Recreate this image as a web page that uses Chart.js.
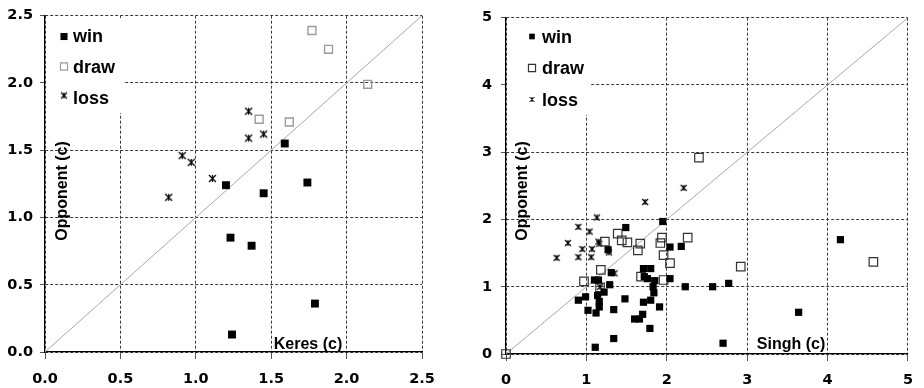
<!DOCTYPE html>
<html>
<head>
<meta charset="utf-8">
<script src="https://cdn.jsdelivr.net/npm/chart.js@4.4.1/dist/chart.umd.min.js"></script>
<style>
  html, body { margin: 0; padding: 0; background: #fff; }
  #wrap { position: relative; width: 924px; height: 388px; overflow: hidden; }
  canvas { position: absolute; top: 0; }
  #keres { left: 0; }
  #singh { left: 460px; }
</style>
</head>
<body>
<div id="wrap">
  <canvas id="keres" width="460" height="388"></canvas>
  <canvas id="singh" width="464" height="388"></canvas>
</div>
<script>
// Keres games: [Keres (c), Opponent (c)] per game, split by result
const keresWin = [[1.59, 1.55], [1.20, 1.24], [1.45, 1.18], [1.74, 1.26], [1.23, 0.85], [1.37, 0.79], [1.79, 0.36], [1.24, 0.13]];
const keresDraw = [[1.77, 2.39], [1.88, 2.25], [2.14, 1.99], [1.42, 1.73], [1.62, 1.71]];
const keresLoss = [[1.35, 1.79], [1.35, 1.59], [1.45, 1.62], [0.91, 1.46], [0.97, 1.41], [1.11, 1.29], [0.82, 1.15]];
const keresTicks = ['0.0', '0.5', '1.0', '1.5', '2.0', '2.5'];

// Singh games: [Singh (c), Opponent (c)] per game, split by result
const singhWin = [[1.95, 1.97], [1.49, 1.88], [2.04, 1.59], [2.18, 1.60], [1.27, 1.55], [4.16, 1.70],
  [1.71, 1.27], [1.80, 1.27], [1.31, 1.21], [1.10, 1.10], [1.15, 1.10], [1.76, 1.12], [1.85, 1.09],
  [1.72, 1.15], [2.04, 1.12], [1.29, 1.03], [1.83, 1.00], [2.23, 1.00], [2.57, 1.00], [2.77, 1.05],
  [0.99, 0.85], [0.90, 0.80], [1.22, 0.92], [1.14, 0.87], [1.48, 0.82], [1.84, 0.91], [1.16, 0.78],
  [1.02, 0.65], [1.16, 0.70], [1.34, 0.66], [1.12, 0.61], [1.71, 0.77], [1.80, 0.80], [1.91, 0.70],
  [1.60, 0.52], [1.66, 0.52], [1.70, 0.59], [1.79, 0.38], [1.34, 0.23], [1.11, 0.10], [2.70, 0.16],
  [3.64, 0.62]];
const singhDraw = [[2.40, 2.92], [2.26, 1.73], [1.94, 1.73], [1.92, 1.65], [1.39, 1.79], [1.44, 1.69],
  [1.51, 1.66], [1.23, 1.67], [1.67, 1.64], [1.64, 1.54], [1.96, 1.47], [2.04, 1.35], [2.92, 1.30],
  [4.57, 1.37], [1.18, 1.25], [1.68, 1.15], [1.96, 1.10], [0.97, 1.08], [1.17, 0.99], [0, 0]];
const singhLoss = [[2.21, 2.47], [1.73, 2.26], [1.13, 2.03], [0.90, 1.89], [1.04, 1.82], [0.77, 1.65],
  [1.15, 1.67], [1.16, 1.64], [0.63, 1.43], [0.90, 1.44], [1.06, 1.44], [0.95, 1.56], [1.07, 1.56],
  [1.28, 1.51], [1.35, 1.20], [1.17, 1.00]];
const singhTicks = ['0', '1', '2', '3', '4', '5'];

const resultLabels = ['win', 'draw', 'loss'];

const toPoints = arr => arr.map(([x, y]) => ({ x, y }));

// asterisk-style marker: an X crossed by a vertical stroke
function asteriskMarker(size, width) {
  const pad = 2;
  const c = document.createElement('canvas');
  c.width = c.height = size + pad * 2;
  const g = c.getContext('2d');
  const m = c.width / 2, h = size / 2;
  g.strokeStyle = '#000';
  g.lineWidth = width;
  g.beginPath();
  g.moveTo(m - h, m - h); g.lineTo(m + h, m + h);
  g.moveTo(m + h, m - h); g.lineTo(m - h, m + h);
  g.moveTo(m, m - h); g.lineTo(m, m + h);
  g.stroke();
  return c;
}

const TICK_FONT = { family: '"DejaVu Sans", sans-serif', size: 14.5, weight: 'bold' };
const TEXT_FONT = '"Liberation Sans", Arial, sans-serif';

// white legend panel, markers and labels, plus the in-plot axis titles
function decorPlugin(cfg) {
  return {
    id: 'decor',
    beforeDatasetsDraw(chart) {
      const ctx = chart.ctx;
      const lg = cfg.legend;
      ctx.save();
      ctx.fillStyle = '#fff';
      ctx.fillRect(lg.box[0], lg.box[1], lg.box[2], lg.box[3]);
      lg.markers.forEach((mk, i) => {
        ctx.fillStyle = mk.fill;
        ctx.strokeStyle = mk.stroke;
        ctx.lineWidth = mk.borderWidth;
        Chart.helpers.drawPoint(ctx, {
          pointStyle: mk.style, radius: mk.radius, rotation: 0, borderWidth: mk.borderWidth
        }, lg.markerX, lg.markerY[i]);
        ctx.fillStyle = '#000';
        ctx.font = 'bold 18px ' + TEXT_FONT;
        ctx.textAlign = 'left';
        ctx.textBaseline = 'alphabetic';
        ctx.fillText(resultLabels[i], lg.textX, lg.baseY[i]);
      });
      ctx.restore();
    },
    afterDraw(chart) {
      const ctx = chart.ctx;
      ctx.save();
      ctx.fillStyle = '#000';
      ctx.font = 'bold 16px ' + TEXT_FONT;
      ctx.textBaseline = 'alphabetic';
      ctx.textAlign = 'center';
      ctx.fillText(cfg.xTitle.text, cfg.xTitle.x, cfg.xTitle.y);
      ctx.translate(cfg.yTitle.x, cfg.yTitle.y);
      ctx.rotate(-Math.PI / 2);
      ctx.fillText(cfg.yTitle.text, 0, 0);
      ctx.restore();
    }
  };
}

function scaleOpts(max, step, labels, tickLen, pad, fitSize, isX) {
  return {
    type: 'linear',
    min: 0, max: max,
    ticks: {
      stepSize: step,
      color: '#000',
      font: TICK_FONT,
      padding: pad,
      autoSkip: false,
      maxRotation: 0,
      callback: (v, i) => labels[i]
    },
    grid: { color: '#3a3a3a', lineWidth: 1, tickLength: tickLen, tickColor: '#555' },
    border: { display: true, color: '#000', width: 1.2, dash: [3, 2] },
    afterFit: s => { if (isX) s.height = fitSize; else s.width = fitSize; }
  };
}

function makeChart(id, opt) {
  return new Chart(document.getElementById(id), {
    type: 'scatter',
    data: {
      datasets: [
        {
          label: 'win', data: toPoints(opt.win), order: 1, clip: false,
          pointStyle: 'rect', pointRadius: opt.winR, pointHoverRadius: opt.winR,
          backgroundColor: '#000', borderColor: '#000', pointBorderWidth: 0
        },
        {
          label: 'draw', data: toPoints(opt.draw), order: 2, clip: false,
          pointStyle: 'rect', pointRadius: opt.drawR, pointHoverRadius: opt.drawR,
          backgroundColor: 'rgba(255,255,255,0)', borderColor: opt.drawColor, pointBorderWidth: opt.drawW
        },
        {
          label: 'loss', data: toPoints(opt.loss), order: 3, clip: false,
          pointStyle: opt.lossMarker, pointRadius: 4, backgroundColor: '#000', borderColor: '#000'
        },
        {
          type: 'line', label: 'parity', order: 10,
          data: [{ x: 0, y: 0 }, { x: opt.max, y: opt.max }],
          borderColor: '#a8a8a8', borderWidth: 1, pointRadius: 0, fill: false
        }
      ]
    },
    options: {
      responsive: false,
      animation: false,
      devicePixelRatio: 1,
      layout: { padding: opt.padding },
      plugins: { legend: { display: false }, tooltip: { enabled: false } },
      scales: {
        x: scaleOpts(opt.max, opt.step, opt.ticks, 7, opt.xPad, opt.xHeight, true),
        y: scaleOpts(opt.max, opt.step, opt.ticks, 5, opt.yPad, opt.yWidth, false)
      }
    },
    plugins: [decorPlugin(opt.decor)]
  });
}

makeChart('keres', {
  win: keresWin, draw: keresDraw, loss: keresLoss, ticks: keresTicks,
  max: 2.5, step: 0.5,
  winR: 5.6, drawR: 5.6, drawW: 1.4, drawColor: '#9a9a9a',
  lossMarker: asteriskMarker(7, 1.2),
  padding: { top: 15, right: 38, bottom: 0, left: 0 },
  xHeight: 36, yWidth: 45, xPad: 12, yPad: 7,
  decor: {
    legend: {
      box: [46, 18, 77, 95],
      markerX: 64, markerY: [36.5, 66.5, 95.5], textX: 73, baseY: [41.5, 72.5, 104],
      markers: [
        { style: 'rect', radius: 5, fill: '#000', stroke: '#000', borderWidth: 0 },
        { style: 'rect', radius: 5, fill: 'rgba(255,255,255,0)', stroke: '#9a9a9a', borderWidth: 1.2 },
        { style: asteriskMarker(6, 1.1), radius: 4, fill: '#000', stroke: '#000', borderWidth: 1 }
      ]
    },
    xTitle: { text: 'Keres (c)', x: 308, y: 349 },
    yTitle: { text: 'Opponent (c)', x: 67, y: 191 }
  }
});

makeChart('singh', {
  win: singhWin, draw: singhDraw, loss: singhLoss, ticks: singhTicks,
  max: 5, step: 1,
  winR: 5.1, drawR: 6.0, drawW: 1.2, drawColor: '#333',
  lossMarker: asteriskMarker(6, 1.1),
  padding: { top: 15, right: 11, bottom: 0, left: 0 },
  xHeight: 34, yWidth: 46, xPad: 11, yPad: 9,
  decor: {
    legend: {
      box: [47, 18, 84, 97],
      markerX: 72, markerY: [36.5, 68, 99.5], textX: 82, baseY: [42.5, 74, 106],
      markers: [
        { style: 'rect', radius: 4, fill: '#000', stroke: '#000', borderWidth: 0 },
        { style: 'rect', radius: 5, fill: 'rgba(255,255,255,0)', stroke: '#333', borderWidth: 1.2 },
        { style: asteriskMarker(5, 1), radius: 4, fill: '#000', stroke: '#000', borderWidth: 1 }
      ]
    },
    xTitle: { text: 'Singh (c)', x: 331, y: 349 },
    yTitle: { text: 'Opponent (c)', x: 67, y: 191 }
  }
});
</script>
</body>
</html>
